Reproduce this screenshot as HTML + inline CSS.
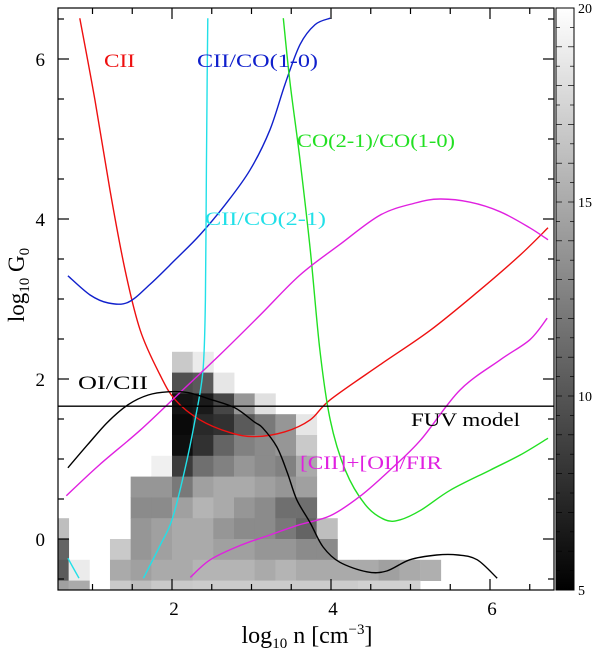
<!DOCTYPE html>
<html><head><meta charset="utf-8"><style>
body{margin:0;background:#fff}
svg{display:block}
text{font-family:"Liberation Serif",serif}
</style></head><body>
<svg id="c" width="600" height="654" viewBox="0 0 600 654" xmlns="http://www.w3.org/2000/svg"></svg>
<script>
// ---- data ----
const xTicksMajor=[2,4,6];
const yTicksMajor=[0,2,4,6];
const cbTicks=[5,10,15,20];
const cellSize=0.26;
// heatmap cells: [col, row, value]; col -> x=2+col*0.26, row -> y=row*0.26
const cellCols=[0,1, 0,1,2, 0,1,2,3,4, 0,1,2,3,4,5,6, 0,1,2,3,4,5,6, -1,0,1,2,3,4,5,6, -2,-1,0,1,2,3,4,5,6, -2,-1,0,1,2,3,4,5,6, -6,-2,-1,0,1,2,3,4,5,6,7, -6,-3,-2,-1,0,1,2,3,4,5,6,7, -6,-5,-3,-2,-1,0,1,2,3,4,5,6,7,8,9,10,11,12, -6,-5,-3,-2,-1,0,1,2,3,4,5,6,7,8,9,10,11];
const cellRows=[8,8, 7,7,7, 6,6,6,6,6, 5,5,5,5,5,5,5, 4,4,4,4,4,4,4, 3,3,3,3,3,3,3,3, 2,2,2,2,2,2,2,2,2, 1,1,1,1,1,1,1,1,1, 0,0,0,0,0,0,0,0,0,0,0, -1,-1,-1,-1,-1,-1,-1,-1,-1,-1,-1,-1, -2,-2,-2,-2,-2,-2,-2,-2,-2,-2,-2,-2,-2,-2,-2,-2,-2,-2, -3,-3,-3,-3,-3,-3,-3,-3,-3,-3,-3,-3,-3,-3,-3,-3,-3];
const cellVals=[16.8,18.8, 9.7,10.3,18.5, 6.2,6.5,9.1,13.8,18.2, 5.6,7.4,7.9,10.3,12.1,13.8,18.5, 5.9,7.9,10.9,12.6,13.2,13.8,16.8, 19.1,8.5,11.5,12.6,13.8,13.2,12.6,15, 13.8,13.8,12.1,14.4,15,15,14.4,13.8,14.4, 13.2,13.2,14.4,15.6,15,13.8,13.2,11.5,11.5, 16.2,13.8,14.4,15,15,13.8,13.2,13.2,12.1,10.9,16.2, 10.9,16.8,13.8,14.4,15,15,14.4,14.4,13.8,13.8,13.2,13.2, 10.3,18.8,15,14.4,15,15,15.6,15.6,15.6,15,15.6,15,15,15,15,14.4,15,15.3, 14.4,15,16.8,16.2,16.8,16.8,17,17,17,17,17,17,17,17,17.3,17.3,17.3];
const ciiX=[0.84,1.03,1.22,1.41,1.6,1.85,2.04,2.35,2.73,3.04,3.42,3.74,3.99,4.62,5.25,5.87,6.38,6.73];
const ciiY=[6.51,5.49,4.36,3.36,2.61,2.05,1.74,1.49,1.33,1.28,1.34,1.49,1.74,2.18,2.61,3.11,3.55,3.89];
const co10X=[0.69,0.97,1.2,1.45,1.72,2.04,2.35,2.67,2.98,3.23,3.42,3.61,3.8,3.99];
const co10Y=[3.29,3.05,2.95,2.96,3.18,3.49,3.8,4.18,4.61,5.11,5.68,6.18,6.43,6.51];
const co21X=[2.45,2.44,2.43,2.42,2.39,2.29,2.16,2.0,1.85,1.64];
const co21Y=[6.51,5.49,4.24,2.99,2.11,1.49,0.86,0.24,-0.08,-0.49];
const co21bX=[0.69,0.83];
const co21bY=[-0.24,-0.49];
const coRatX=[3.4,3.48,3.61,3.74,3.86,3.99,4.18,4.43,4.68,4.87,5.13,5.5,6.0,6.38,6.73];
const coRatY=[6.51,5.74,4.74,3.61,2.36,1.49,0.86,0.43,0.24,0.24,0.36,0.61,0.86,1.05,1.26];
const firAX=[0.67,1.09,1.6,2.1,2.6,3.11,3.61,4.11,4.62,5.06,5.37,5.75,6.13,6.5,6.73];
const firAY=[0.54,0.93,1.36,1.83,2.3,2.8,3.3,3.68,4.05,4.2,4.25,4.21,4.09,3.89,3.74];
const firBX=[2.23,2.48,2.86,3.23,3.61,3.99,4.36,4.74,5.13,5.62,6.13,6.5,6.72];
const firBY=[-0.48,-0.26,-0.08,0.05,0.18,0.29,0.53,0.86,1.24,1.86,2.24,2.49,2.76];
const oiX=[0.69,0.94,1.19,1.45,1.7,1.95,2.2,2.5,2.79,3.04,3.14,3.32,3.45,3.57,3.74,3.9,4.11,4.45,4.7,4.99,5.33,5.6,5.84,6.09];
const oiY=[0.89,1.18,1.46,1.68,1.8,1.84,1.83,1.74,1.64,1.46,1.39,1.15,0.83,0.49,0.2,-0.1,-0.29,-0.41,-0.4,-0.26,-0.2,-0.2,-0.26,-0.49];
const fuvLevel=1.66;

// ---- axes ----
const L=58,R=554,T=8,B=590;
const X=v=>13+79.5*v, Y=v=>539-80*v;
const CBL=556,CBR=574;
const CB=v=>B-(v-5)/15*(B-T);
const NS='http://www.w3.org/2000/svg';
const svg=document.getElementById('c');
function mk(tag,a,parent){const e=document.createElementNS(NS,tag);for(const k in a)e.setAttribute(k,a[k]);(parent||svg).appendChild(e);return e;}
const defs=mk('defs',{});
const cp=mk('clipPath',{id:'pc'},defs);mk('rect',{x:L,y:T,width:R-L,height:B-T},cp);
const gr=mk('linearGradient',{id:'cbg',x1:0,y1:1,x2:0,y2:0},defs);
mk('stop',{offset:0,'stop-color':'#000'},gr);mk('stop',{offset:1,'stop-color':'#fff'},gr);

const hm=mk('g',{'clip-path':'url(#pc)'});


for(let i=0;i<cellVals.length;i++){
  const x0=2+cellCols[i]*cellSize, y0=cellRows[i]*cellSize;
  const g=Math.round(Math.max(0,Math.min(1,(cellVals[i]-5)/15))*255);
  const r=mk('rect',{x:X(x0),y:Y(y0+cellSize),width:X(x0+cellSize)-X(x0)+0.4,height:Y(y0)-Y(y0+cellSize)+0.4,fill:`rgb(${g},${g},${g})`},hm);
  
  
}
const lines=mk('g',{'clip-path':'url(#pc)',fill:'none','stroke-width':1.4});
function smooth(pts){
  let d='M'+pts[0][0].toFixed(1)+','+pts[0][1].toFixed(1);
  for(let i=0;i<pts.length-1;i++){
    const p0=pts[Math.max(0,i-1)],p1=pts[i],p2=pts[i+1],p3=pts[Math.min(pts.length-1,i+2)];
    const c1=[p1[0]+(p2[0]-p0[0])/6,p1[1]+(p2[1]-p0[1])/6];
    const c2=[p2[0]-(p3[0]-p1[0])/6,p2[1]-(p3[1]-p1[1])/6];
    d+=` C${c1[0].toFixed(1)},${c1[1].toFixed(1)} ${c2[0].toFixed(1)},${c2[1].toFixed(1)} ${p2[0].toFixed(1)},${p2[1].toFixed(1)}`;
  }
  return d;
}
function curve(xs,ys,col,name){
  const p=mk('path',{d:smooth(xs.map((x,i)=>[X(x),Y(ys[i])])),stroke:col},lines);
  
  
}
curve(ciiX,ciiY,'#ee1010','cii-curve');
curve(co10X,co10Y,'#1020cc','cii-co10-curve');
curve(co21X,co21Y,'#22e0e8','cii-co21-curve');
curve(co21bX,co21bY,'#22e0e8','cii-co21-curve-b');
curve(coRatX,coRatY,'#22e022','co-ratio-curve');
curve(firAX,firAY,'#e020e0','fir-curve-upper');
curve(firBX,firBY,'#e020e0','fir-curve-lower');
curve(oiX,oiY,'#000','oi-cii-curve');
const fl=mk('line',{x1:L,x2:R,y1:Y(fuvLevel),y2:Y(fuvLevel),stroke:'#000','stroke-width':1.4});



// frame & ticks
const ax=mk('g',{stroke:'#000','stroke-width':1.2,fill:'none'});


mk('rect',{x:L,y:T,width:R-L,height:B-T},ax);
for(let v=1;v<=6.5;v+=0.5){const big=v%2===0;const x=X(v);if(x<L||x>R)continue;
  mk('line',{x1:x,x2:x,y1:B,y2:B-(big?11:6)},ax);mk('line',{x1:x,x2:x,y1:T,y2:T+(big?11:6)},ax);}
for(let v=-0.5;v<=6.5;v+=0.5){const big=v%2===0;const y=Y(v);if(y<T||y>B)continue;
  mk('line',{x1:L,x2:L+(big?11:6),y1:y,y2:y},ax);mk('line',{x1:R,x2:R-(big?11:6),y1:y,y2:y},ax);}
function txt(s,x,y,o,name){const t=mk('text',Object.assign({x:x,y:y,'font-size':17},o||{}));t.textContent=s;
  
  return t;}
xTicksMajor.forEach(v=>txt(String(v),X(v)+2,615,{'text-anchor':'middle','font-size':19},'x-tick-label'));
yTicksMajor.forEach(v=>txt(String(v),45,Y(v)+7,{'text-anchor':'end','font-size':19},'y-tick-label'));
// colorbar
const cb=mk('rect',{x:CBL,y:T,width:CBR-CBL,height:B-T,fill:'url(#cbg)',stroke:'#000','stroke-width':1});


for(let v=5.5;v<20;v+=0.5){const y=CB(v);const big=Number.isInteger(v);
  mk('line',{x1:CBL,x2:CBL+(big?6:4),y1:y,y2:y,stroke:'#000','stroke-width':0.7});mk('line',{x1:CBR,x2:CBR-(big?6:4),y1:y,y2:y,stroke:'#000','stroke-width':0.7});}
cbTicks.forEach(v=>txt(String(v),578,CB(v)+5,{'font-size':14},'colorbar-tick-label'));
// axis titles
const xt=txt('',307,643,{'text-anchor':'middle','font-size':24},'x-axis-title');
xt.innerHTML='log<tspan font-size="15" dy="5">10</tspan><tspan dy="-5"> n  [cm</tspan><tspan font-size="15" dy="-9">−3</tspan><tspan dy="9">]</tspan>';
const yt=txt('',0,0,{'text-anchor':'middle','font-size':23,transform:'translate(24,285) rotate(-90)'},'y-axis-title');
yt.innerHTML='log<tspan font-size="15" dy="5">10</tspan><tspan dy="-5"> G</tspan><tspan font-size="15" dy="5">0</tspan>';
// labels
function lab(s,x,y,w,col,name){txt(s,x,y,{fill:col,'font-size':19,textLength:w,lengthAdjust:'spacingAndGlyphs'},name);}
lab('CII',104,67,31,'#ee1010','cii-label');
lab('CII/CO(1-0)',197,67,121,'#1020cc','cii-co10-label');
lab('CO(2-1)/CO(1-0)',297,147,158,'#22e022','co-ratio-label');
lab('CII/CO(2-1)',205,225,121,'#22e0e8','cii-co21-label');
lab('OI/CII',78,389,70,'#000','oi-cii-label');
lab('FUV model',411,426,109,'#000','fuv-model-label');
lab('[CII]+[OI]/FIR',300,469,142,'#e020e0','fir-label');
</script>
</body></html>
